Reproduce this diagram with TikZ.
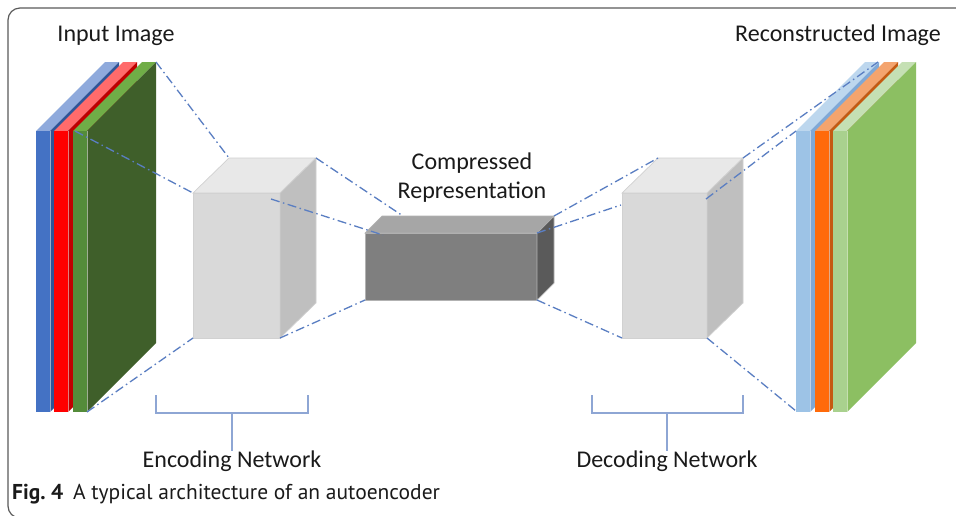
\documentclass[tikz,border=0pt]{standalone}
\usepackage{fontspec}
\setmainfont{Carlito}
\newfontfamily\capfont{PT Sans}

\definecolor{linkblue}{HTML}{5A7EC2}
\definecolor{braceblue}{HTML}{8EA6D4}
\definecolor{framegray}{HTML}{5A5A5A}
\definecolor{inkblack}{HTML}{1A1A1A}

% input layers
\definecolor{bluefront}{HTML}{4472C4}
\definecolor{bluetop}{HTML}{8FAADC}
\definecolor{blueside}{HTML}{2F5597}
\definecolor{redfront}{HTML}{FF0000}
\definecolor{redtop}{HTML}{FF6B6B}
\definecolor{redside}{HTML}{C00000}
\definecolor{grnfront}{HTML}{548C3A}
\definecolor{grntop}{HTML}{70AD47}
\definecolor{grnside}{HTML}{3F5F2A}
% output layers
\definecolor{lbfront}{HTML}{9DC3E6}
\definecolor{lbtop}{HTML}{BDD7EE}
\definecolor{lbside}{HTML}{7FA8D6}
\definecolor{orfront}{HTML}{FF6A0A}
\definecolor{ortop}{HTML}{F4A46E}
\definecolor{orside}{HTML}{C55A11}
\definecolor{lgfront}{HTML}{A9D18E}
\definecolor{lgtop}{HTML}{C5E0B4}
\definecolor{lgside}{HTML}{8CBF62}
% boxes
\definecolor{boxfront}{HTML}{D9D9D9}
\definecolor{boxtop}{HTML}{E8E8E8}
\definecolor{boxside}{HTML}{BFBFBF}
\definecolor{codefront}{HTML}{7F7F7F}
\definecolor{codetop}{HTML}{A6A6A6}
\definecolor{codeside}{HTML}{5A5A5A}

% one image channel: left x, width, front, top and side colours
\newcommand\channelslab[5]{%
  \fill[#4] (#1,131) -- ++(#2,0) -- ++(69,-69) -- ++(-#2,0) -- cycle;
  \fill[#5] (#1+#2,131) -- ++(69,-69) -- ++(0,281) -- ++(-69,69) -- cycle;
  \fill[#3] (#1,131) rectangle ++(#2,281);
  \draw[white, opacity=0.5, line width=0.6pt] (#1+#2,131) -- ++(0,281);
}

\begin{document}
\begin{tikzpicture}[x=1pt,y=-1pt,
  link/.style={draw=linkblue, line width=1.3pt,
    dash pattern=on 9pt off 3.5pt on 1.5pt off 3.5pt},
  brace/.style={draw=braceblue, line width=1.4pt},
  boxedge/.style={draw=black!18, line width=0.7pt},
  codeedge/.style={draw=black!30, line width=0.7pt},
  label/.style={font=\fontsize{24}{28}\selectfont, text=inkblack, inner sep=0pt},
  frame/.style={draw=framegray, line width=1.2pt, rounded corners=12pt}]

\useasboundingbox (0,0) rectangle (956,515);
\clip (0,0) rectangle (956,515);
\fill[white] (0,0) rectangle (956,515);
\draw[frame] (8,8) rectangle (990,518);

% ---------- input image channels ----------
\channelslab{36}{14}{bluefront}{bluetop}{blueside}
\channelslab{54}{14}{redfront}{redtop}{redside}
\channelslab{73}{14}{grnfront}{grntop}{grnside}

% ---------- reconstructed image channels ----------
\channelslab{796}{14}{lbfront}{lbtop}{lbside}
\channelslab{815}{14}{orfront}{ortop}{orside}
\channelslab{833}{14}{lgfront}{lgtop}{lgside}

% ---------- encoder block ----------
\coordinate (enc-ftl) at (193,193);
\coordinate (enc-ftr) at (280,193);
\coordinate (enc-fbl) at (193,338);
\coordinate (enc-fbr) at (280,338);
\coordinate (enc-btl) at (229,158);
\coordinate (enc-btr) at (316,158);
\coordinate (enc-bbr) at (316,303);
\filldraw[boxedge, fill=boxfront] (enc-ftl) rectangle (enc-fbr);
\filldraw[boxedge, fill=boxtop] (enc-ftl) -- (enc-ftr) -- (enc-btr) -- (enc-btl) -- cycle;
\filldraw[boxedge, fill=boxside] (enc-ftr) -- (enc-btr) -- (enc-bbr) -- (enc-fbr) -- cycle;

% ---------- code block ----------
\coordinate (cod-ftl) at (365,233);
\coordinate (cod-ftr) at (537,233);
\coordinate (cod-fbl) at (365,300);
\coordinate (cod-fbr) at (537,300);
\coordinate (cod-btl) at (382,216);
\coordinate (cod-btr) at (554,216);
\coordinate (cod-bbr) at (554,283);
\filldraw[codeedge, fill=codefront] (cod-ftl) rectangle (cod-fbr);
\filldraw[codeedge, fill=codetop] (cod-ftl) -- (cod-ftr) -- (cod-btr) -- (cod-btl) -- cycle;
\filldraw[codeedge, fill=codeside] (cod-ftr) -- (cod-btr) -- (cod-bbr) -- (cod-fbr) -- cycle;

% ---------- decoder block ----------
\coordinate (dec-ftl) at (622,193);
\coordinate (dec-ftr) at (707,193);
\coordinate (dec-fbl) at (622,338);
\coordinate (dec-fbr) at (707,338);
\coordinate (dec-btl) at (658,158);
\coordinate (dec-btr) at (743,158);
\coordinate (dec-bbr) at (743,303);
\filldraw[boxedge, fill=boxfront] (dec-ftl) rectangle (dec-fbr);
\filldraw[boxedge, fill=boxtop] (dec-ftl) -- (dec-ftr) -- (dec-btr) -- (dec-btl) -- cycle;
\filldraw[boxedge, fill=boxside] (dec-ftr) -- (dec-btr) -- (dec-bbr) -- (dec-fbr) -- cycle;

% ---------- projection lines ----------
\coordinate (in-back)   at (156,62);
\coordinate (in-front)  at (75,131);
\coordinate (in-bottom) at (87,412);
\coordinate (enc-inner) at (271,199);
\coordinate (cod-topin) at (403,216);
\coordinate (cod-facein) at (383,235);
\coordinate (dec-edge)  at (621,205);
\coordinate (dec-inner) at (706,199);
\coordinate (out-back)  at (878,62);
\coordinate (out-front) at (796,131);
\coordinate (out-bottom) at (796,411);

\draw[link] (in-back) -- (enc-btl);
\draw[link] (in-front) -- (enc-ftl);
\draw[link] (in-bottom) -- (enc-fbl);
\draw[link] (enc-btr) -- (cod-topin);
\draw[link] (enc-inner) -- (cod-facein);
\draw[link] (enc-fbr) -- (cod-fbl);
\draw[link] (cod-btr) -- (dec-btl);
\draw[link] (cod-ftr) -- (dec-edge);
\draw[link] (cod-fbr) -- (dec-fbl);
\draw[link] (dec-btr) -- (out-back);
\draw[link] (dec-inner) -- (out-front);
\draw[link] (dec-fbr) -- (out-bottom);

% ---------- labels ----------
\node[label] (lbl-in)  at (116,36) {Input Image};
\node[label] (lbl-out) at (838,35) {Reconstructed Image};
\node[label] (lbl-c1)  at (472,163) {Compressed};
\node[label] (lbl-c2)  at (472,192) {Representation};
\node[label] (lbl-enc) at (232,461) {Encoding Network};
\node[label] (lbl-dec) at (667,461) {Decoding Network};

% ---------- brackets ----------
\coordinate (enc-l) at (156,395);
\coordinate (enc-r) at (308,395);
\coordinate (enc-mid) at (232,413);
\coordinate (enc-stem) at (232,451);
\draw[brace] (enc-l) |- (enc-r |- enc-mid) -- (enc-r);
\draw[brace] (enc-mid) -- (enc-stem);

\coordinate (dec-l) at (592,395);
\coordinate (dec-r) at (743,395);
\coordinate (dec-mid) at (667,413);
\coordinate (dec-stem) at (667,451);
\draw[brace] (dec-l) |- (dec-r |- dec-mid) -- (dec-r);
\draw[brace] (dec-mid) -- (dec-stem);

% ---------- caption ----------
\node[anchor=west, inner sep=0pt, text=inkblack,
      font=\capfont\fontsize{21.5}{24}\selectfont] (caption) at (12,494)
  {\textbf{Fig.~4}\hspace{0.45em}A typical architecture of an autoencoder};

\end{tikzpicture}
\end{document}
